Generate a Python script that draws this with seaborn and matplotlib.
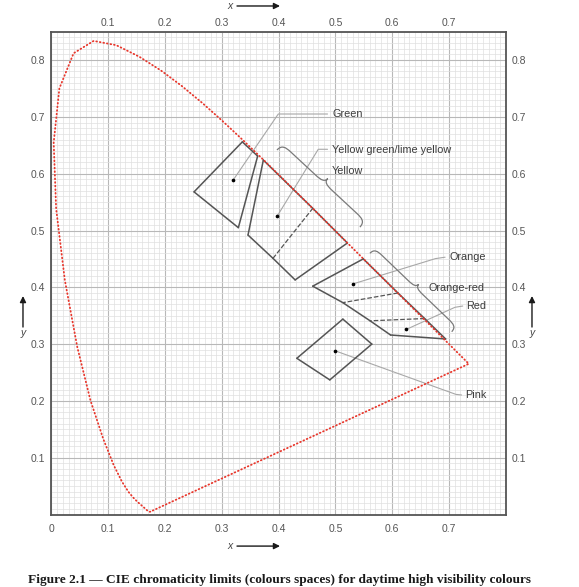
import numpy as np
import pandas as pd
import matplotlib
matplotlib.use("Agg")
import matplotlib.pyplot as plt
import seaborn as sns
from matplotlib.path import Path
from matplotlib.patches import PathPatch
from matplotlib.ticker import MultipleLocator

# ---------------- data ----------------
# CIE 1931 spectral locus (380-700 nm, 5 nm steps)
locus_x = [0.1741, 0.1740, 0.1738, 0.1736, 0.1733, 0.1730, 0.1726, 0.1721, 0.1714, 0.1703,
           0.1689, 0.1669, 0.1644, 0.1611, 0.1566, 0.1510, 0.1440, 0.1355, 0.1241, 0.1096,
           0.0913, 0.0687, 0.0454, 0.0235, 0.0082, 0.0039, 0.0139, 0.0389, 0.0743, 0.1142,
           0.1547, 0.1929, 0.2296, 0.2658, 0.3016, 0.3373, 0.3731, 0.4087, 0.4441, 0.4788,
           0.5125, 0.5448, 0.5752, 0.6029, 0.6270, 0.6482, 0.6658, 0.6801, 0.6915, 0.7006,
           0.7079, 0.7140, 0.7190, 0.7230, 0.7260, 0.7283, 0.7300, 0.7311, 0.7320, 0.7327,
           0.7334, 0.7340, 0.7344, 0.7346, 0.7347, 0.1741]
locus_y = [0.0050, 0.0050, 0.0049, 0.0049, 0.0048, 0.0048, 0.0048, 0.0048, 0.0051, 0.0058,
           0.0069, 0.0086, 0.0109, 0.0138, 0.0177, 0.0227, 0.0297, 0.0399, 0.0578, 0.0868,
           0.1327, 0.2007, 0.2950, 0.4127, 0.5384, 0.6548, 0.7502, 0.8120, 0.8338, 0.8262,
           0.8059, 0.7816, 0.7543, 0.7243, 0.6923, 0.6589, 0.6245, 0.5896, 0.5547, 0.5202,
           0.4866, 0.4544, 0.4242, 0.3965, 0.3725, 0.3514, 0.3340, 0.3197, 0.3083, 0.2993,
           0.2920, 0.2859, 0.2809, 0.2770, 0.2740, 0.2717, 0.2700, 0.2689, 0.2680, 0.2673,
           0.2666, 0.2660, 0.2656, 0.2654, 0.2653, 0.0050]

# colour-space corner points (x, y)
green_x = [0.251, 0.336, 0.363, 0.329]
green_y = [0.568, 0.656, 0.631, 0.505]
ygreen_x = [0.373, 0.346, 0.390, 0.460]
ygreen_y = [0.624, 0.492, 0.451, 0.539]
yellow_x = [0.390, 0.429, 0.521, 0.460]
yellow_y = [0.451, 0.413, 0.478, 0.539]
orange_x = [0.460, 0.549, 0.610, 0.513]
orange_y = [0.402, 0.450, 0.390, 0.373]
orangered_x = [0.513, 0.610, 0.657, 0.561]
orangered_y = [0.373, 0.390, 0.345, 0.341]
red_x = [0.561, 0.657, 0.694, 0.597]
red_y = [0.341, 0.345, 0.309, 0.316]
pink_x = [0.513, 0.564, 0.490, 0.432]
pink_y = [0.344, 0.300, 0.237, 0.275]

# reference points inside the colour spaces
dot_names = ["Green", "Yellow green/lime yellow", "Orange", "Red", "Pink"]
dot_x = [0.320, 0.3975, 0.531, 0.625, 0.500]
dot_y = [0.589, 0.5255, 0.406, 0.326, 0.288]

labels = ["Green", "Yellow green/lime yellow", "Yellow", "Orange", "Orange-red", "Red", "Pink"]
label_x = [0.494, 0.494, 0.494, 0.701, 0.664, 0.730, 0.728]
label_y = [0.705, 0.642, 0.605, 0.453, 0.398, 0.367, 0.210]

x_ticks_bottom = [0, 0.1, 0.2, 0.3, 0.4, 0.5, 0.6, 0.7]
x_ticks_top = [0.1, 0.2, 0.3, 0.4, 0.5, 0.6, 0.7]
y_ticks = [0.1, 0.2, 0.3, 0.4, 0.5, 0.6, 0.7, 0.8]

caption = "Figure 2.1 \u2014 CIE chromaticity limits (colours spaces) for daytime high visibility colours"

# ---------------- style ----------------
sns.set_style("white")
plt.rcParams["font.family"] = ["Liberation Sans", "DejaVu Sans"]

fig = plt.figure(figsize=(5.79, 5.87), dpi=100)
ax = fig.add_axes([0.0889, 0.1235, 0.7848, 0.8225])

# spectral locus
loc_df = pd.DataFrame({"x": locus_x, "y": locus_y})
sns.lineplot(data=loc_df, x="x", y="y", sort=False, estimator=None, ax=ax,
             color="#e8372c", lw=1.3, zorder=5)
locline = ax.lines[-1]
locline.set_dashes([0.4, 1.6])
locline.set_dash_capstyle("round")

ax.set_xlim(0, 0.8)
ax.set_ylim(0, 0.85)
ax.set_aspect("equal")
ax.set_xlabel("")
ax.set_ylabel("")

# grid
ax.xaxis.set_minor_locator(MultipleLocator(0.01))
ax.yaxis.set_minor_locator(MultipleLocator(0.01))
ax.set_xticks(x_ticks_bottom)
ax.set_xticklabels([f"{v:g}" for v in x_ticks_bottom])
ax.set_yticks(y_ticks)
ax.set_yticklabels([f"{v:g}" for v in y_ticks])
ax.grid(which="minor", color="#e0e0e0", lw=0.5, zorder=0)
ax.grid(which="major", color="#b8b8b8", lw=0.8, zorder=0)
ax.set_axisbelow(True)
ax.tick_params(which="both", length=0)
ax.tick_params(axis="x", labelsize=7.5, labelcolor="#555555", pad=7)
ax.tick_params(axis="y", labelsize=7.5, labelcolor="#555555", pad=4.5,
               labelright=True, right=False)
for s in ax.spines.values():
    s.set_color("#555555")
    s.set_linewidth(1.3)

sec = ax.secondary_xaxis("top")
sec.set_xticks(x_ticks_top)
sec.set_xticklabels([f"{v:g}" for v in x_ticks_top])
sec.tick_params(length=0, labelsize=7.5, labelcolor="#555555", pad=3)
sec.spines["top"].set_visible(False)

# colour spaces
edge_col = "#555555"

def draw_edges(xs, ys, styles):
    n = len(xs)
    for i in range(n):
        st = styles[i]
        if st is None:
            continue
        j = (i + 1) % n
        ax.plot([xs[i], xs[j]], [ys[i], ys[j]], color=edge_col,
                lw=1.1 if st == "-" else 0.9, linestyle=st, zorder=4)

draw_edges(green_x, green_y, ["-", "-", "-", "-"])
draw_edges(ygreen_x, ygreen_y, ["-", "-", "--", "-"])
draw_edges(yellow_x, yellow_y, ["-", "-", "-", None])
draw_edges(orange_x, orange_y, ["-", "-", "--", "-"])
draw_edges(orangered_x, orangered_y, [None, "-", "--", "-"])
draw_edges(red_x, red_y, [None, "-", "-", "-"])
draw_edges(pink_x, pink_y, ["-", "-", "-", "-"])

sns.scatterplot(x=dot_x, y=dot_y, ax=ax, color="black", s=7, linewidth=0, zorder=6)

# leader lines
lead_col = "#a8a8a8"
leaders = [
    ([dot_x[0], 0.3993, 0.486], [dot_y[0], 0.7051, 0.7051]),
    ([dot_x[1], 0.4697, 0.486], [dot_y[1], 0.6430, 0.6430]),
    ([dot_x[2], 0.676, 0.693], [dot_y[2], 0.4505, 0.453]),
    ([dot_x[3], 0.7104, 0.724], [dot_y[3], 0.3648, 0.367]),
    ([dot_x[4], 0.712, 0.722], [dot_y[4], 0.2115, 0.2104]),
]
for lx, ly in leaders:
    ax.plot(lx, ly, color=lead_col, lw=0.8, zorder=3)

# braces
def brace(a, b, h1, h2, r):
    a = np.array(a); b = np.array(b)
    d = b - a
    L = np.hypot(*d)
    u = d / L
    n = np.array([u[1], -u[0]])
    if n[0] + n[1] < 0:
        n = -n
    def P(s, v):
        return a + u * s + n * v
    m = L / 2
    verts = [P(0, 0),
             P(0, h1 * 0.9), P(r * 0.4, h1), P(r, h1),
             P(m - r, h1),
             P(m - r * 0.3, h1), P(m, h1 + (h2 - h1) * 0.2), P(m + 0.0, h2),
             P(m, h1 + (h2 - h1) * 0.2), P(m + r * 0.3, h1), P(m + r, h1),
             P(L - r, h1),
             P(L - r * 0.4, h1), P(L, h1 * 0.9), P(L, 0)]
    codes = [Path.MOVETO, Path.CURVE4, Path.CURVE4, Path.CURVE4, Path.LINETO,
             Path.CURVE4, Path.CURVE4, Path.CURVE4, Path.CURVE4, Path.CURVE4, Path.CURVE4,
             Path.LINETO, Path.CURVE4, Path.CURVE4, Path.CURVE4]
    ax.add_patch(PathPatch(Path(verts, codes), fill=False, edgecolor="#7a7a7a",
                           lw=0.9, zorder=3))

brace((0.397, 0.6417), (0.543, 0.506), 0.014, 0.024, 0.02)
brace((0.5607, 0.4599), (0.7046, 0.3218), 0.012, 0.02, 0.018)

for t, lx, ly in zip(labels, label_x, label_y):
    ax.text(lx, ly, t, fontsize=7.8, color="#3c3c3c", ha="left", va="center", zorder=7)

# axis arrows
arrow_kw = dict(arrowstyle="-|>", color="#1a1a1a", lw=1.0, mutation_scale=9,
                shrinkA=0, shrinkB=0)
for yy in [0.9898, 0.0697]:
    fig.text(0.397, yy, "x", fontsize=7.5, style="italic", color="#444444",
             ha="center", va="center")
    ax.annotate("", xy=(0.4836, yy), xytext=(0.4093, yy), xycoords="figure fraction",
                textcoords="figure fraction", arrowprops=arrow_kw, annotation_clip=False)
for xx in [0.0397, 0.9188]:
    ax.annotate("", xy=(xx, 0.4957), xytext=(xx, 0.4429), xycoords="figure fraction",
                textcoords="figure fraction", arrowprops=arrow_kw, annotation_clip=False)
    fig.text(xx, 0.4327, "y", fontsize=7.5, style="italic", color="#444444",
             ha="center", va="center")

fig.text(0.482, 0.0125, caption, ha="center", va="center", fontsize=9.6,
         fontweight="bold", family=["Liberation Serif", "DejaVu Serif"], color="#1a1a1a")

fig.savefig("out.png", dpi=100)
